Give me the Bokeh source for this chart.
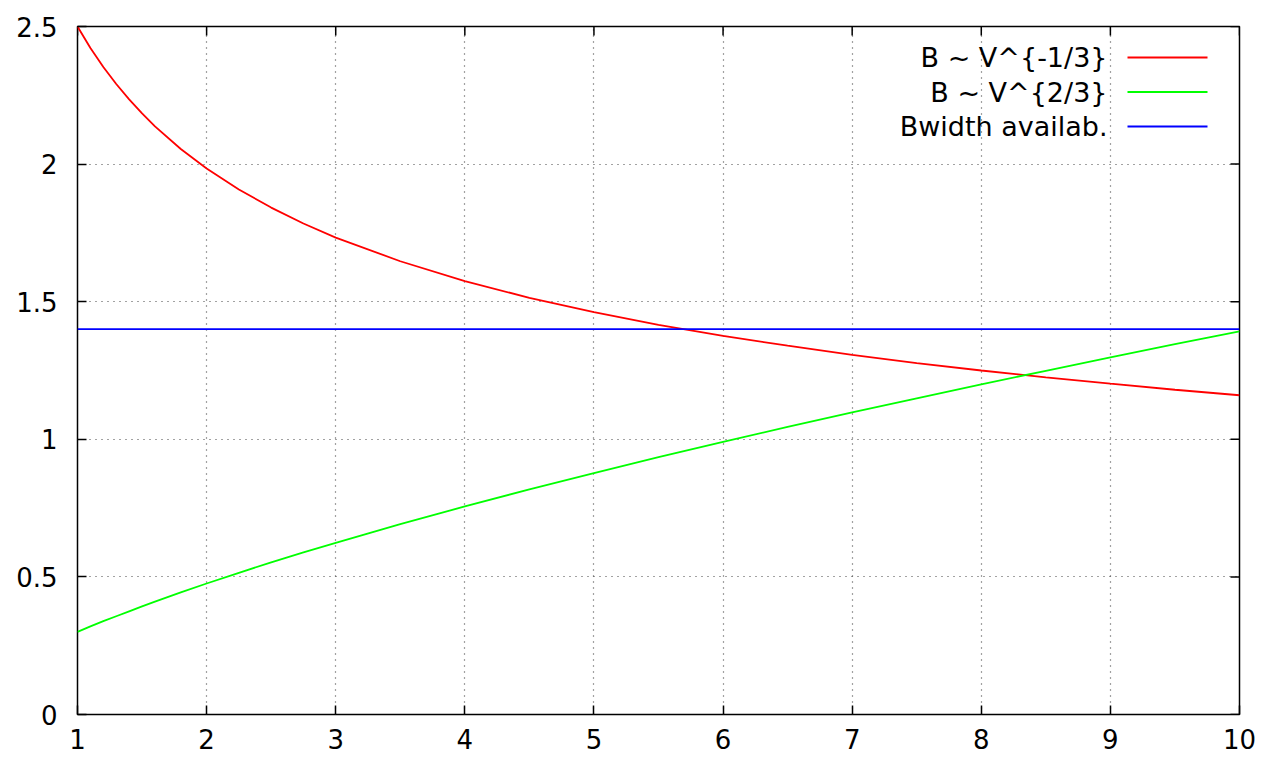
import math
from bokeh.plotting import figure
from bokeh.models import LinearAxis, FixedTicker, Label, BoxAnnotation, Range1d, Grid
from bokeh.embed import file_html
from bokeh.resources import INLINE

V = [1, 1.1, 1.2, 1.3, 1.4, 1.5, 1.6, 1.8, 2, 2.25, 2.5, 2.75, 3, 3.5, 4, 4.5, 5,
     5.5, 6, 6.5, 7, 7.5, 8, 8.5, 9, 9.5, 10]
B_inv = [2.500, 2.422, 2.353, 2.291, 2.235, 2.184, 2.137, 2.055, 1.984, 1.908, 1.842,
         1.784, 1.733, 1.647, 1.575, 1.514, 1.462, 1.416, 1.376, 1.340, 1.307, 1.277,
         1.250, 1.225, 1.202, 1.180, 1.160]
B_pow = [0.300, 0.320, 0.339, 0.357, 0.375, 0.393, 0.410, 0.444, 0.476, 0.515, 0.553,
         0.589, 0.624, 0.692, 0.756, 0.818, 0.877, 0.935, 0.991, 1.045, 1.098, 1.149,
         1.200, 1.249, 1.298, 1.346, 1.392]
V_avail = [1, 10]
B_avail = [1.4, 1.4]

x_ticks = [1, 2, 3, 4, 5, 6, 7, 8, 9, 10]
y_ticks = [0, 0.5, 1, 1.5, 2, 2.5]
y_labels = ["0", "0.5", "1", "1.5", "2", "2.5"]
series_names = ["B ~ V^{-1/3}", "B ~ V^{2/3}", "Bwidth availab."]
series_colors = ["#ff0000", "#00ff00", "#0000ff"]

FONT = "DejaVu Sans"
FS = "26px"

p = figure(frame_width=1162, frame_height=688, output_backend="svg", toolbar_location=None,
           x_range=Range1d(1, 10), y_range=Range1d(0, 2.5),
           x_axis_type=None, y_axis_type=None,
           min_border_left=77, min_border_right=25, min_border_top=26, min_border_bottom=47)
p.background_fill_color = "white"
p.border_fill_color = "white"
p.outline_line_color = "black"
p.outline_line_width = 1.5

def make_axis(ticks, labels=None):
    ax = LinearAxis(ticker=FixedTicker(ticks=ticks))
    ax.axis_line_color = None
    ax.major_tick_in = 9
    ax.major_tick_out = 0
    ax.major_tick_line_color = "black"
    ax.major_tick_line_width = 1.5
    ax.minor_tick_line_color = None
    ax.major_label_text_font = FONT
    ax.major_label_text_font_size = FS
    ax.major_label_text_color = "black"
    if labels is not None:
        ax.major_label_overrides = {t: l for t, l in zip(ticks, labels)}
    return ax

xl = make_axis(x_ticks)
xl.major_label_standoff = 14
yl = make_axis(y_ticks, y_labels)
yl.major_label_standoff = 20
p.add_layout(xl, "below")
p.add_layout(yl, "left")

for dim, ticks in ((0, x_ticks), (1, y_ticks)):
    g = Grid(dimension=dim, ticker=FixedTicker(ticks=ticks))
    g.grid_line_color = "#444444"
    g.grid_line_dash = "1 5"
    g.grid_line_width = 1.2
    p.add_layout(g, "center")

# mirrored inward ticks on the top and right borders
p.ray(x=x_ticks, y=[2.5] * len(x_ticks), length=9, length_units="screen",
      angle=-math.pi / 2, line_color="black", line_width=1.5)
p.ray(x=[10] * len(y_ticks), y=y_ticks, length=9, length_units="screen",
      angle=math.pi, line_color="black", line_width=1.5)

p.line(V, B_inv, line_color=series_colors[0], line_width=1.8)
p.line(V, B_pow, line_color=series_colors[1], line_width=1.8)
p.line(V_avail, B_avail, line_color=series_colors[2], line_width=1.8)

# gnuplot-style key: right-aligned text, sample line to the right
for i, (name, col) in enumerate(zip(series_names, series_colors)):
    yk = 688 - 31 - i * 34.5
    p.add_layout(Label(x=1030, y=yk, x_units="screen", y_units="screen",
                       text=name, text_font=FONT, text_font_size="27px",
                       text_align="right", text_baseline="middle", text_color="black"))
    p.add_layout(BoxAnnotation(left=1050, right=1130, bottom=yk - 0.9, top=yk + 0.9,
                               left_units="screen", right_units="screen",
                               bottom_units="screen", top_units="screen",
                               fill_color=col, fill_alpha=1, line_color=None))

open("out.html", "w").write(file_html(p, INLINE))
